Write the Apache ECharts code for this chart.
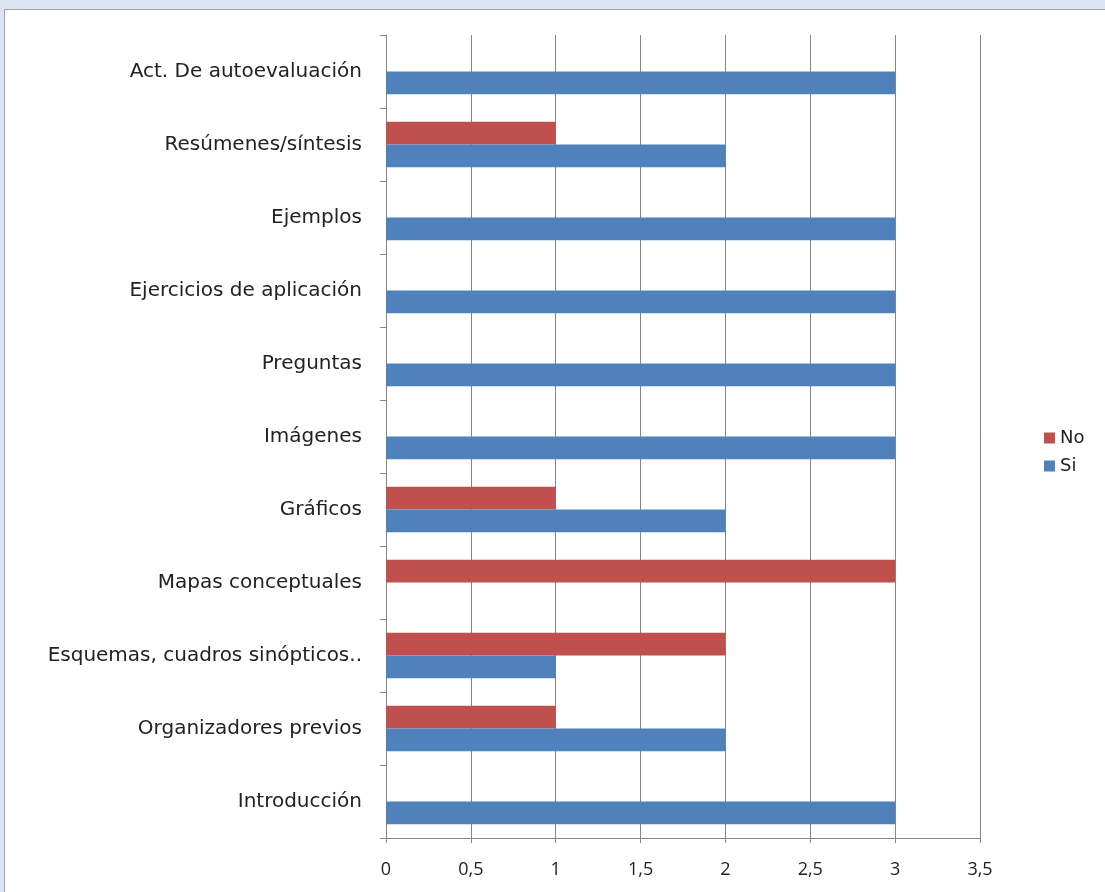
<!DOCTYPE html>
<html>
<head>
<meta charset="utf-8">
<script src="https://cdn.jsdelivr.net/npm/echarts@6/dist/echarts.min.js"></script>
<style>
  html, body { margin: 0; padding: 0; width: 1105px; height: 892px; background: #dbe5f1; overflow: hidden; }
  #panel { position: absolute; left: 4px; top: 9px; width: 1101px; height: 883px; background: #ffffff; border-left: 1px solid #9aa4b0; border-top: 1px solid #9aa4b0; box-sizing: border-box; }
  #chart { position: absolute; left: 0; top: 0; width: 1105px; height: 892px; }
</style>
</head>
<body>
<div id="panel"></div>
<div id="chart"></div>
<script>
// Resources present in the teaching material, counted per answer (bottom to top)
const categories = [
  'Introducción',
  'Organizadores previos',
  'Esquemas, cuadros sinópticos..',
  'Mapas conceptuales',
  'Gráficos',
  'Imágenes',
  'Preguntas',
  'Ejercicios de aplicación',
  'Ejemplos',
  'Resúmenes/síntesis',
  'Act. De autoevaluación'
];
const noValues = [0, 1, 2, 3, 1, 0, 0, 0, 0, 1, 0];
const siValues = [3, 2, 1, 0, 2, 3, 3, 3, 3, 2, 3];
const seriesNames = ['No', 'Si'];

const LABEL_FONT = '"DejaVu Sans", sans-serif';
const TICK_FONT = '"Open Sans", "Noto Sans", sans-serif';
const chart = echarts.init(document.getElementById('chart'), null, { renderer: 'canvas' });

chart.setOption({
  backgroundColor: 'transparent',
  animation: false,
  grid: { left: 386, top: 35, right: 125, bottom: 54, containLabel: false },
  legend: {
    data: seriesNames,
    orient: 'vertical',
    left: 1039,
    top: 424,
    itemWidth: 11,
    itemHeight: 11,
    itemGap: 10,
    icon: 'rect',
    textStyle: { fontFamily: LABEL_FONT, fontSize: 18, color: '#222' }
  },
  xAxis: {
    type: 'value',
    min: 0,
    max: 3.5,
    interval: 0.5,
    axisLine: { show: true, lineStyle: { color: '#868686' } },
    axisTick: { show: true, length: 5, lineStyle: { color: '#868686' } },
    splitLine: { show: true, lineStyle: { color: '#868686', width: 1 } },
    axisLabel: {
      fontFamily: TICK_FONT, fontSize: 18, color: '#222', margin: 23,
      formatter: v => String(v).replace('.', ',')
    }
  },
  yAxis: {
    type: 'category',
    data: categories,
    axisLine: { show: true, lineStyle: { color: '#868686' } },
    axisTick: { show: true, length: 6, lineStyle: { color: '#868686' } },
    axisLabel: { fontFamily: LABEL_FONT, fontSize: 20, color: '#222', margin: 24, padding: [7, 0, 0, 0] }
  },
  series: [
    {
      name: seriesNames[0],
      type: 'bar',
      data: noValues,
      itemStyle: { color: '#c0504d' },
      barGap: '0%',
      barCategoryGap: '38%'
    },
    {
      name: seriesNames[1],
      type: 'bar',
      data: siValues,
      itemStyle: { color: '#4f81bd' },
      barGap: '0%',
      barCategoryGap: '38%'
    }
  ]
});
</script>
</body>
</html>
